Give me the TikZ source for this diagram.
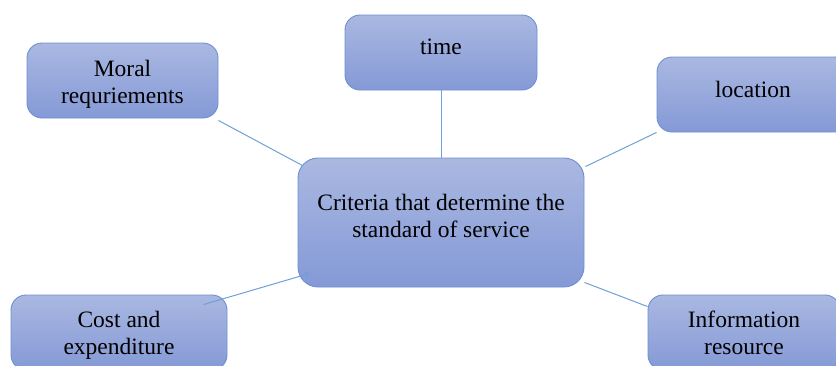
\documentclass[tikz,border=0pt]{standalone}
\usepackage{fontspec}
\setmainfont{Liberation Serif}
\usepackage{xcolor}
\definecolor{box_top}{HTML}{AAB8E1}
\definecolor{box_bottom}{HTML}{8499D6}
\definecolor{box_edge}{HTML}{6E8FD3}
\definecolor{link_blue}{HTML}{6FA0DA}
\usetikzlibrary{positioning, arrows.meta}

\begin{document}
\begin{tikzpicture}[x=1pt, y=-1pt,
    critbox/.style={draw=box_edge, line width=0.9pt, rounded corners=15pt,
      top color=box_top, bottom color=box_bottom, align=center,
      inner ysep=0pt, minimum height=0pt,
      font=\fontsize{23.5}{27}\selectfont},
    link/.style={draw=link_blue, line width=1pt}]
      \useasboundingbox (0,0) rectangle (836,365);
      \clip (0,0) rectangle (836,365);

      \node[critbox, minimum width=286pt, rounded corners=20pt,
        text height=79pt, text depth=50pt] (centre) at (441,222.5)
        {Criteria that determine the\\standard of service};

      \node[critbox, minimum width=192pt, text height=39pt, text depth=36pt]
        (time) at (441,52.5) {time};
      \node[critbox, minimum width=191pt, text height=60pt, text depth=15pt]
        (moral) at (122.5,80.5) {Moral\\requriements};
      \node[critbox, minimum width=192pt, text height=40pt, text depth=35pt]
        (location) at (753,94.5) {location};
      \node[critbox, minimum width=216pt, text height=59pt, text depth=16pt]
        (cost) at (119,332.5) {Cost and\\expenditure};
      \node[critbox, minimum width=192pt, text height=59pt, text depth=16pt]
        (info) at (744,332.5) {Information\\resource};

      \draw[link] (time.south) -- (centre.north);
      \draw[link] ([yshift=-2pt]moral.south east) -- ([shift={(5pt,-8pt)}]centre.north west);
      \draw[link] (location.south west) -- ([shift={(1pt,-9pt)}]centre.north east);
      \draw[link, -{To[length=5pt, width=8pt]}] ([shift={(-24pt,-10pt)}]cost.north east) -- ([shift={(12pt,14pt)}]centre.south west);
      \draw[link] ([yshift=5pt]centre.south east) -- ([yshift=-12pt]info.north west);
    \end{tikzpicture}
\end{document}
